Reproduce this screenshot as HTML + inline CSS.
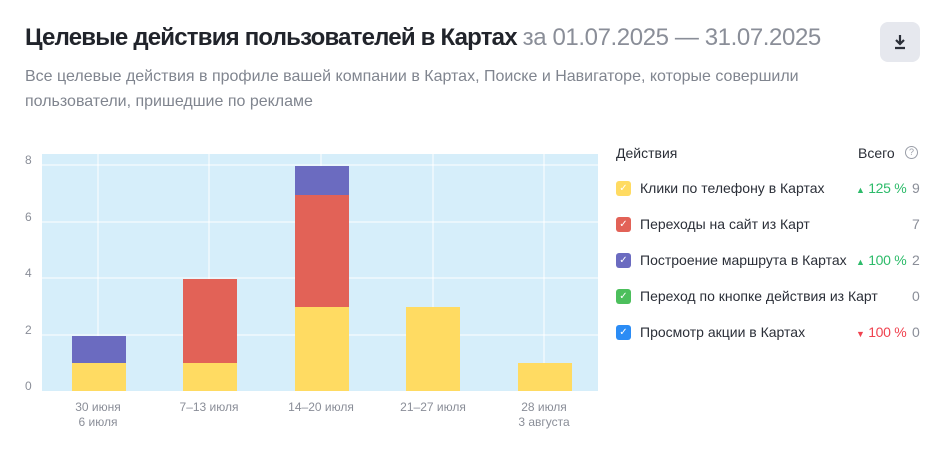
<!DOCTYPE html>
<html><head><meta charset="utf-8"><style>
body{margin:0;width:940px;height:460px;background:#fff;font-family:"Liberation Sans",sans-serif;position:relative;overflow:hidden}
.t{position:absolute;left:25px;top:24px;font-size:24px;font-weight:bold;color:#21242b;letter-spacing:-0.8px}
.t span{color:#8a8e98;font-weight:400;letter-spacing:-0.4px}
.s{position:absolute;left:25px;top:64px;width:780px;font-size:16px;line-height:25px;color:#80858f}
.dl{position:absolute;left:880px;top:22px;width:40px;height:40px;border-radius:8px;background:#e6e8ee}
.lg{position:absolute;left:616px;font-size:14px;color:#2b2f38;white-space:nowrap}
.cb{position:absolute;left:616px;width:15px;height:15px;border-radius:3px;color:#fff;font-size:10px;text-align:center;line-height:15px}
.pc{position:absolute;font-size:14px;white-space:nowrap;letter-spacing:-0.3px}
.v{position:absolute;left:912px;font-size:14px;color:#8a8e98}
.yl{position:absolute;left:25px;font-size:12px;color:#8a8e98}
.xl{position:absolute;font-size:12px;color:#8a8e98;text-align:center;width:110px;line-height:15px}
</style></head><body>
<div class="t">Целевые действия пользователей в Картах <span>за 01.07.2025 — 31.07.2025</span></div>
<div class="s">Все целевые действия в профиле вашей компании в Картах, Поиске и Навигаторе, которые совершили пользователи, пришедшие по рекламе</div>
<div class="dl"><svg width="40" height="40"><path d="M20 13v9M16 18l4 4 4-4M15 26h10" stroke="#2b2f38" stroke-width="2.2" fill="none"/></svg></div>
<svg style="position:absolute;left:0;top:0" width="600" height="400">
<rect x="42" y="154" width="556" height="237" fill="#d6eefa"/>
<g stroke="#fff" stroke-width="1">
<line x1="42" x2="598" y1="165" y2="165"/><line x1="42" x2="598" y1="222" y2="222"/><line x1="42" x2="598" y1="278" y2="278"/><line x1="42" x2="598" y1="335" y2="335"/>
<line x1="98" x2="98" y1="154" y2="391"/><line x1="209" x2="209" y1="154" y2="391"/><line x1="321" x2="321" y1="154" y2="391"/><line x1="433" x2="433" y1="154" y2="391"/><line x1="544" x2="544" y1="154" y2="391"/>
</g>
<rect x="72" y="363" width="54" height="28" fill="#ffdb62"/><rect x="72" y="336" width="54" height="27" fill="#6b6bc0"/>
<rect x="183" y="363" width="54" height="28" fill="#ffdb62"/><rect x="183" y="279" width="54" height="84" fill="#e26257"/>
<rect x="295" y="307" width="54" height="84" fill="#ffdb62"/><rect x="295" y="195" width="54" height="112" fill="#e26257"/><rect x="295" y="166" width="54" height="29" fill="#6b6bc0"/>
<rect x="406" y="307" width="54" height="84" fill="#ffdb62"/>
<rect x="518" y="363" width="54" height="28" fill="#ffdb62"/>
</svg>
<div class="yl" style="top:153px">8</div><div class="yl" style="top:210px">6</div><div class="yl" style="top:266px">4</div><div class="yl" style="top:323px">2</div><div class="yl" style="top:379px">0</div>
<div class="xl" style="left:43px;top:400px">30 июня<br>6 июля</div>
<div class="xl" style="left:154px;top:400px">7–13 июля</div>
<div class="xl" style="left:266px;top:400px">14–20 июля</div>
<div class="xl" style="left:378px;top:400px">21–27 июля</div>
<div class="xl" style="left:489px;top:400px">28 июля<br>3 августа</div>
<div class="lg" style="top:145px">Действия</div>
<div class="lg" style="top:145px;left:858px">Всего</div>
<div style="position:absolute;left:905px;top:146px;width:11px;height:11px;border:1.3px solid #9a9ea8;border-radius:50%;font-size:9px;color:#9a9ea8;text-align:center;line-height:11px">?</div>
<div class="cb" style="top:181px;background:#ffdb62">✓</div><div class="lg" style="top:180px;left:640px">Клики по телефону в Картах</div><div class="pc" style="top:180px;left:856px;color:#2dbb6a"><span style="font-size:9px">▲</span> 125 %</div><div class="v" style="top:180px">9</div>
<div class="cb" style="top:217px;background:#e26257">✓</div><div class="lg" style="top:216px;left:640px">Переходы на сайт из Карт</div><div class="v" style="top:216px">7</div>
<div class="cb" style="top:253px;background:#6b6bc0">✓</div><div class="lg" style="top:252px;left:640px;width:208px;overflow:hidden">Построение маршрута в Картах</div><div class="pc" style="top:252px;left:856px;color:#2dbb6a"><span style="font-size:9px">▲</span> 100 %</div><div class="v" style="top:252px">2</div>
<div class="cb" style="top:289px;background:#4cbf5c">✓</div><div class="lg" style="top:288px;left:640px;width:240px;overflow:hidden">Переход по кнопке действия из Карт</div><div class="v" style="top:288px">0</div>
<div class="cb" style="top:325px;background:#2b8cf5">✓</div><div class="lg" style="top:324px;left:640px">Просмотр акции в Картах</div><div class="pc" style="top:324px;left:856px;color:#f0424f"><span style="font-size:9px">▼</span> 100 %</div><div class="v" style="top:324px">0</div>
</body></html>
